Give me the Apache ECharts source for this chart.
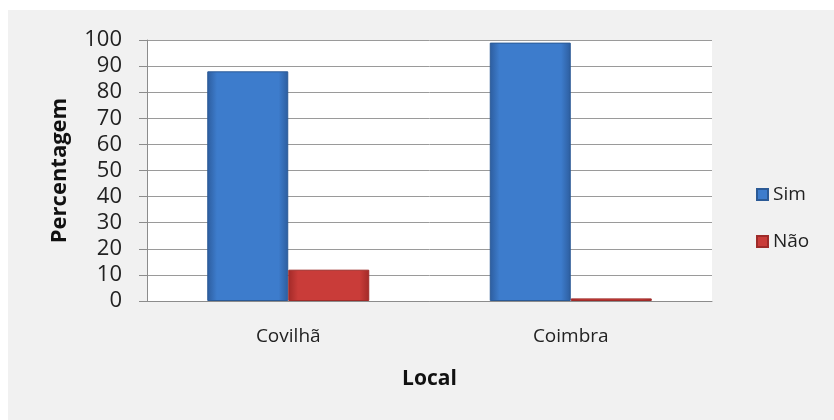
<!DOCTYPE html>
<html><head><meta charset="utf-8">
<script src="https://cdn.jsdelivr.net/npm/echarts@6/dist/echarts.min.js"></script>
<style>html,body{margin:0;padding:0;background:#fff}#c{width:834px;height:420px}</style>
</head><body><div id="c"></div>
<script>
const categories = ['Covilhã', 'Coimbra'];
const simValues = [88, 99];
const naoValues = [12, 1];
const seriesNames = ['Sim', 'Não'];
const yTicks = {min: 0, max: 100, interval: 10};

const FONT = 'Open Sans';
function grad(edge, mid) {
  return new echarts.graphic.LinearGradient(0, 0, 1, 0, [
    {offset: 0, color: edge}, {offset: 0.12, color: mid},
    {offset: 0.88, color: mid}, {offset: 1, color: edge}
  ]);
}
const chart = echarts.init(document.getElementById('c'), null, {renderer: 'canvas'});
chart.setOption({
  backgroundColor: '#ffffff',
  animation: false,
  textStyle: {fontFamily: FONT},
  graphic: [{type: 'rect', z: -10, silent: true, shape: {x: 8, y: 10, width: 826, height: 410}, style: {fill: '#f1f1f1'}}],
  grid: {left: 147, right: 122, top: 40, bottom: 119, show: true, backgroundColor: '#ffffff', borderWidth: 0},
  legend: {
    orient: 'vertical', left: 751, top: 180, itemGap: 28, itemWidth: 11, itemHeight: 11, icon: 'rect',
    textStyle: {fontFamily: FONT, fontSize: 19, color: '#222'},
    data: seriesNames
  },
  xAxis: {
    type: 'category', data: categories, name: 'Local', nameLocation: 'middle', nameGap: 68,
    nameTextStyle: {fontFamily: FONT, fontSize: 21, fontWeight: 'bold', color: '#111'},
    axisLine: {show: true, lineStyle: {color: '#8c8c8c', width: 1}},
    axisTick: {show: false},
    axisLabel: {fontFamily: FONT, fontSize: 19, color: '#222', margin: 26}
  },
  yAxis: {
    type: 'value', min: yTicks.min, max: yTicks.max, interval: yTicks.interval,
    name: 'Percentagem', nameLocation: 'middle', nameGap: 76, nameRotate: 90,
    nameTextStyle: {fontFamily: FONT, fontSize: 22, fontWeight: 'bold', color: '#111'},
    axisLine: {show: true, lineStyle: {color: '#8c8c8c'}},
    axisTick: {show: true, inside: false, length: 8, lineStyle: {color: '#8c8c8c'}},
    axisLabel: {fontFamily: FONT, fontSize: 22, color: '#222', margin: 25},
    splitLine: {show: true, lineStyle: {color: '#9a9a9a', width: 1}}
  },
  series: [
    {name: seriesNames[0], type: 'bar', data: simValues, barWidth: 81, barGap: '0%',
     itemStyle: {color: grad('#2d5d9e', '#3d7ccc'), borderColor: '#2b5a96', borderWidth: 1}},
    {name: seriesNames[1], type: 'bar', data: naoValues, barWidth: 81,
     itemStyle: {color: grad('#a22a28', '#c93c39'), borderColor: '#9e2b29', borderWidth: 1}}
  ]
});
</script></body></html>
